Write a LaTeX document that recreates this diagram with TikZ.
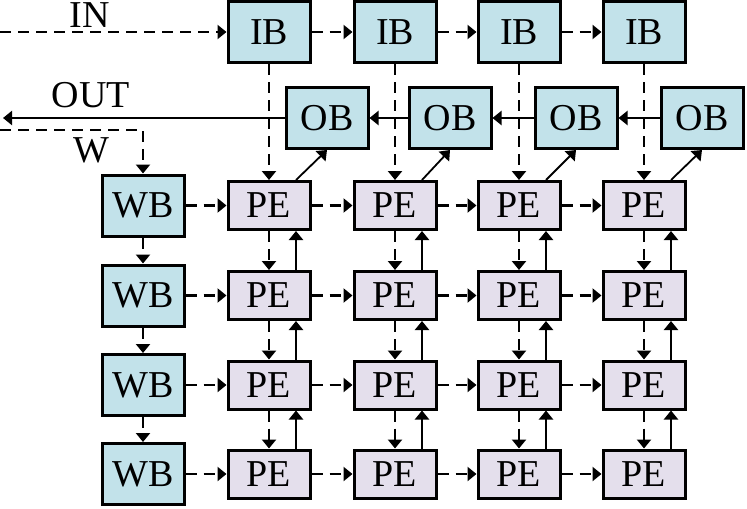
\documentclass[tikz,border=0pt]{standalone}
\usepackage{fontspec}
\setmainfont{Liberation Serif}
\usetikzlibrary{arrows.meta,calc}
\definecolor{bufblue}{RGB}{194,226,234}
\definecolor{pelilac}{RGB}{228,223,236}
\tikzset{
  buf/.style={draw, line width=1.5pt, fill=bufblue, minimum width=41pt, minimum height=30.5pt, inner sep=0pt},
  pebox/.style={draw, line width=1.5pt, fill=pelilac, minimum width=41pt, minimum height=24pt, inner sep=0pt},
  dline/.style={line width=1.3pt, dash pattern=on 5.5pt off 3.5pt},
  sline/.style={line width=1.1pt},
  lbl/.style={anchor=base, inner sep=0pt},
}
\begin{document}
\begin{tikzpicture}[x=0.5pt, y=-0.5pt, >={Triangle[width=7pt,length=4.5pt]}, font=\fontsize{19}{22}\selectfont]
    \useasboundingbox (0,0) rectangle (747,508);

    % input buffers
    \foreach \c/\x in {1/269,2/395,3/519,4/644}
        \node[buf] (ib\c) at (\x,32) {IB};
    % output buffers
    \foreach \c/\x in {1/327,2/450,3/576,4/702}
        \node[buf] (ob\c) at (\x,118) {OB};
    % weight buffers and PE array
    \foreach \r/\y in {1/205.5,2/295.5,3/385,4/474}{
        \node[buf] (wb\r) at (143,\y) {WB};
        \foreach \c/\x in {1/269,2/395,3/519,4/644}
            \node[pebox] (pe\r\c) at (\x,\y) {PE};
    }

    % Labels
    \node[lbl] (inlbl) at (90,28) {IN};
    \node[lbl] (outlbl) at (91,107) {OUT};
    \node[lbl] (wlbl) at (91,162) {W};

    % IN, OUT and W lines
    \coordinate (in) at (0,32);
    \coordinate (out) at (3,118);
    \coordinate (win) at (0,130);
    \draw[dline,->] (in) -- (ib1.west);
    \draw[sline,->] (ob1) -- (out);
    \draw[dline,->] (win) -| (wb1);

    % buffer chains
    \foreach \a/\b in {1/2,2/3,3/4}{
        \draw[dline,->] (ib\a) -- (ib\b);
        \draw[sline,->] (ob\b) -- (ob\a);
        \draw[dline,->] (wb\a) -- (wb\b);
    }

    % rows: WB -> PE -> PE
    \foreach \r in {1,2,3,4}{
        \draw[dline,->] (wb\r) -- (pe\r1);
        \foreach \a/\b in {1/2,2/3,3/4}
            \draw[dline,->] (pe\r\a) -- (pe\r\b);
    }

    % columns: IB down, results up to OB
    \foreach \c in {1,2,3,4}{
        \draw[dline,->] (ib\c) -- (pe1\c);
        \draw[line width=0.9pt,->] ($(pe1\c.north)+(27,0)$) -- (ob\c.south);
        \foreach \a/\b in {1/2,2/3,3/4}{
            \draw[dline,->] (pe\a\c) -- (pe\b\c);
            \draw[sline,->] ($(pe\b\c.north)+(27,0)$) -- ($(pe\a\c.south)+(27,0)$);
        }
    }
\end{tikzpicture}
\end{document}
